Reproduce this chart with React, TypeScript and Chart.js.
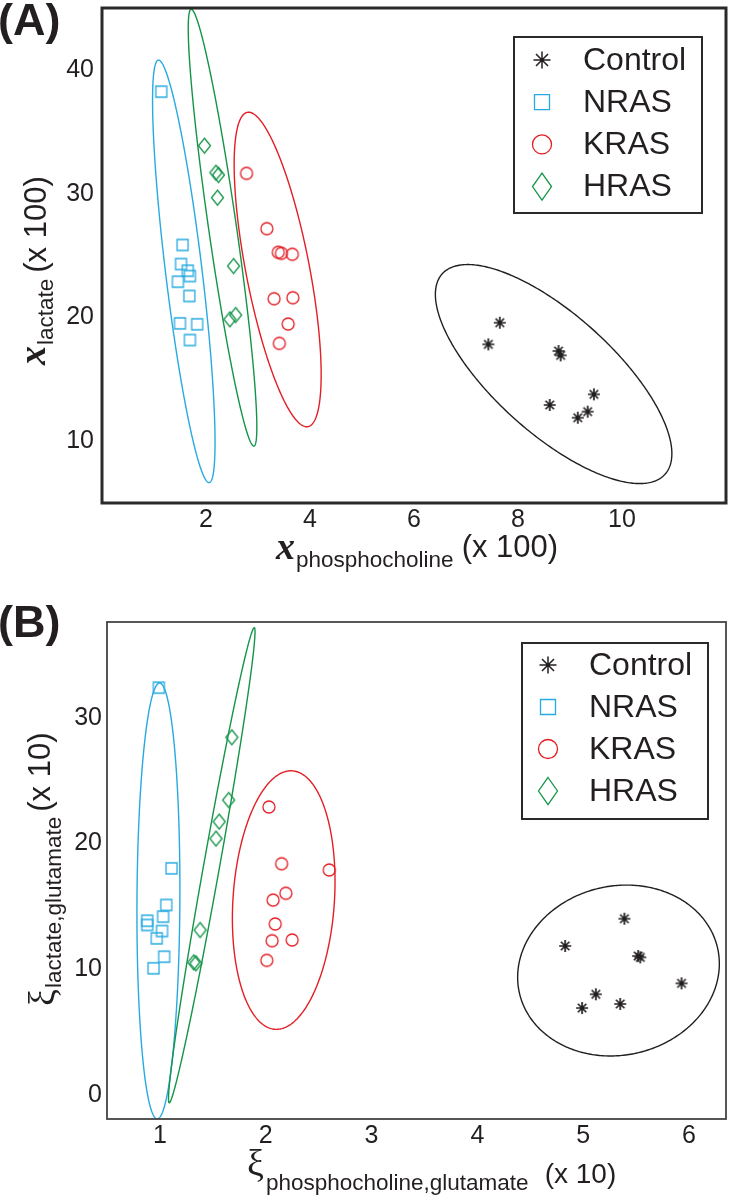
import React, { useEffect, useRef } from 'react';
import { Chart, registerables } from 'chart.js';

Chart.register(...registerables);

const FONT_SANS = '"Liberation Sans", Arial, sans-serif';
const FONT_SERIF = '"Liberation Serif", "Times New Roman", serif';
const TEXT_COLOR = '#231f20';

const seriesNames = ['Control', 'NRAS', 'KRAS', 'HRAS'];
const seriesColors = ['#231f20', '#27aae1', '#e31e24', '#139448'];
const markerKinds = ['star', 'square', 'circle', 'diamond'];

// ---------- Panel A ----------
const aControlX = [7.65, 7.43, 8.78, 8.82, 9.46, 8.61, 9.34, 9.15];
const aControlY = [19.57, 17.82, 17.28, 16.93, 13.78, 12.92, 12.38, 11.89];
const aNrasX = [1.14, 1.55, 1.52, 1.65, 1.69, 1.46, 1.68, 1.5, 1.83, 1.69];
const aNrasY = [38.24, 25.85, 24.31, 23.77, 23.34, 22.88, 21.73, 19.52, 19.44, 18.17];
const aKrasX = [2.78, 3.17, 3.39, 3.45, 3.66, 3.31, 3.67, 3.58, 3.41];
const aKrasY = [31.64, 27.17, 25.26, 25.18, 25.1, 21.51, 21.59, 19.46, 17.9];
const aHrasX = [1.97, 2.19, 2.24, 2.22, 2.53, 2.46, 2.57];
const aHrasY = [33.87, 31.69, 31.51, 29.67, 24.15, 19.84, 20.19];
// ellipse: [centerX, centerY, u.x, u.y, v.x, v.y] (conjugate semi-diameters)
const aEllipses = [
  [8.685, 15.42, 2.274, -6.432, 0, -6.077],
  [1.573, 23.72, -0.489, 17.07, 0.349, 0.179],
  [3.378, 23.87, -0.583, 12.7, 0.6, 0.493],
  [2.318, 27.25, -0.604, 17.65, 0.265, 0.162],
];
const aXRange = [0, 12];
const aYRange = [5, 45];
const aXTicks = [2, 4, 6, 8, 10];
const aYTicks = [10, 20, 30, 40];

// ---------- Panel B ----------
const bControlX = [5.39, 4.83, 5.52, 5.54, 5.93, 5.12, 5.35, 4.99];
const bControlY = [14.02, 11.85, 11.05, 10.95, 8.88, 8.01, 7.24, 6.92];
const bNrasX = [0.99, 1.11, 1.06, 1.03, 0.88, 0.88, 1.02, 0.97, 1.04, 0.94];
const bNrasY = [32.38, 18.02, 15.11, 14.18, 13.86, 13.52, 13.04, 12.46, 11.0, 10.08];
const bKrasX = [2.03, 2.15, 2.6, 2.19, 2.07, 2.09, 2.06, 2.25, 2.01];
const bKrasY = [22.9, 18.39, 17.89, 16.04, 15.5, 13.6, 12.27, 12.33, 10.71];
const bHrasX = [1.68, 1.65, 1.56, 1.53, 1.38, 1.32, 1.34];
const bHrasY = [28.44, 23.45, 21.73, 20.38, 13.12, 10.55, 10.47];
const bEllipses = [
  [5.334, 9.9, 0.953, 0.54, 0, 6.77],
  [0.986, 15.43, 0.203, 0.962, 0, 17.29],
  [2.17, 15.5, 0.485, 1.462, 0, 10.17],
  [1.49, 18.27, 0.402, 18.88, 0.0744, -0.112],
];
const bXRange = [0.5, 6.35];
const bYRange = [-1.9, 37.6];
const bXTicks = [1, 2, 3, 4, 5, 6];
const bYTicks = [0, 10, 20, 30];

// marker sizes [w, h]
const dataMarkerSize: Record<string, number[]> = {
  star: [12, 12], square: [11, 11], circle: [12, 12], diamond: [12, 15],
};
const legendMarkerSize: Record<string, number[]> = {
  star: [17, 17], square: [15, 15], circle: [19, 19], diamond: [19, 27],
};

function drawMarker(ctx: CanvasRenderingContext2D, kind: string, cx: number, cy: number, w: number, h: number, color: string, lw: number) {
  ctx.save();
  ctx.strokeStyle = color;
  ctx.lineWidth = lw;
  ctx.beginPath();
  if (kind === 'square') {
    ctx.rect(cx - w / 2, cy - h / 2, w, h);
  } else if (kind === 'circle') {
    ctx.ellipse(cx, cy, w / 2, h / 2, 0, 0, Math.PI * 2);
  } else if (kind === 'diamond') {
    ctx.moveTo(cx, cy - h / 2);
    ctx.lineTo(cx + w / 2, cy);
    ctx.lineTo(cx, cy + h / 2);
    ctx.lineTo(cx - w / 2, cy);
    ctx.closePath();
  } else {
    const r = w / 2;
    for (let k = 0; k < 4; k++) {
      const a = (k * Math.PI) / 4;
      ctx.moveTo(cx - r * Math.cos(a), cy - r * Math.sin(a));
      ctx.lineTo(cx + r * Math.cos(a), cy + r * Math.sin(a));
    }
  }
  ctx.stroke();
  if (kind === 'star') {
    ctx.fillStyle = color;
    ctx.beginPath();
    ctx.arc(cx, cy, lw * 1.2, 0, Math.PI * 2);
    ctx.fill();
  }
  ctx.restore();
}

function makeMarkerCanvas(kind: string, color: string, w: number, h: number, lw: number) {
  const c = document.createElement('canvas');
  const size = Math.ceil(Math.max(w, h) + 4);
  c.width = size;
  c.height = size;
  const ctx = c.getContext('2d')!;
  drawMarker(ctx, kind, size / 2, size / 2, w, h, color, lw);
  return c;
}

type TitlePart = { text: string; font: string; off: number; gap?: number };

function drawTitle(ctx: CanvasRenderingContext2D, parts: TitlePart[], x: number, y: number, rotated: boolean) {
  ctx.save();
  ctx.fillStyle = TEXT_COLOR;
  ctx.textBaseline = 'alphabetic';
  ctx.textAlign = 'left';
  ctx.translate(x, y);
  if (rotated) ctx.rotate(-Math.PI / 2);
  let pos = 0;
  for (const p of parts) {
    pos += p.gap || 0;
    ctx.font = p.font;
    ctx.fillText(p.text, pos, p.off);
    pos += ctx.measureText(p.text).width;
  }
  ctx.restore();
}

type PanelSpec = {
  xs: number[][];
  ys: number[][];
  ellipses: number[][];
  xRange: number[];
  yRange: number[];
  xTicks: number[];
  yTicks: number[];
  padTop: number;
  padRight: number;
  xAxisHeight: number;
  yAxisWidth: number;
  yTickPad: number;
  xTickPad: number;
  frameWidth: number;
  frameColor: string;
  label: string;
  labelBaseline: number;
  legendBox: number[];
  legendMarkerX: number;
  legendTextX: number;
  legendRow0: number;
  legendRowStep: number;
  yTitle: { x: number; y: number; parts: TitlePart[] };
  xTitle: { x: number; y: number; parts: TitlePart[] };
};

function buildConfig(spec: PanelSpec): any {
  const datasets = seriesNames.map((name, si) => {
    const kind = markerKinds[si];
    const [w, h] = dataMarkerSize[kind];
    const img = makeMarkerCanvas(kind, seriesColors[si], w, h, kind === 'star' ? 1.7 : 1.3);
    return {
      label: name,
      data: spec.xs[si].map((x, i) => ({ x, y: spec.ys[si][i] })),
      pointStyle: img,
      pointRadius: 6,
      showLine: false,
    };
  });

  const decor = {
    id: 'decor' + spec.label,
    beforeDatasetsDraw(chart: any) {
      const ctx = chart.ctx as CanvasRenderingContext2D;
      const xs = chart.scales.x;
      const ys = chart.scales.y;
      const area = chart.chartArea;
      ctx.save();
      ctx.beginPath();
      ctx.rect(area.left, area.top, area.right - area.left, area.bottom - area.top);
      ctx.clip();
      spec.ellipses.forEach((e, si) => {
        const [cx, cy, ux, uy, vx, vy] = e;
        ctx.beginPath();
        for (let k = 0; k <= 360; k++) {
          const t = (k * Math.PI) / 180;
          const dx = cx + ux * Math.cos(t) + vx * Math.sin(t);
          const dy = cy + uy * Math.cos(t) + vy * Math.sin(t);
          const px = xs.getPixelForValue(dx);
          const py = ys.getPixelForValue(dy);
          if (k === 0) ctx.moveTo(px, py);
          else ctx.lineTo(px, py);
        }
        ctx.closePath();
        ctx.strokeStyle = seriesColors[si];
        ctx.lineWidth = 1.4;
        ctx.stroke();
      });
      ctx.restore();
    },
    afterDraw(chart: any) {
      const ctx = chart.ctx as CanvasRenderingContext2D;
      const area = chart.chartArea;
      // frame
      ctx.save();
      ctx.strokeStyle = spec.frameColor;
      ctx.lineWidth = spec.frameWidth;
      ctx.strokeRect(area.left, area.top, area.right - area.left, area.bottom - area.top);
      // legend
      const [lx0, ly0, lx1, ly1] = spec.legendBox;
      ctx.fillStyle = '#ffffff';
      ctx.fillRect(lx0, ly0, lx1 - lx0, ly1 - ly0);
      ctx.lineWidth = 2;
      ctx.strokeStyle = '#2a2a2a';
      ctx.strokeRect(lx0, ly0, lx1 - lx0, ly1 - ly0);
      ctx.font = '32px ' + FONT_SANS;
      ctx.fillStyle = TEXT_COLOR;
      ctx.textBaseline = 'middle';
      ctx.textAlign = 'left';
      seriesNames.forEach((name, si) => {
        const cy = spec.legendRow0 + si * spec.legendRowStep;
        const kind = markerKinds[si];
        const [w, h] = legendMarkerSize[kind];
        drawMarker(ctx, kind, spec.legendMarkerX, cy, w, h, seriesColors[si], kind === 'star' ? 1.5 : 1.3);
        ctx.fillText(name, spec.legendTextX, cy + 1);
      });
      // panel label
      ctx.font = 'bold 45px ' + FONT_SANS;
      ctx.textBaseline = 'alphabetic';
      ctx.fillText(spec.label, -2, spec.labelBaseline);
      ctx.restore();
      drawTitle(ctx, spec.yTitle.parts, spec.yTitle.x, spec.yTitle.y, true);
      drawTitle(ctx, spec.xTitle.parts, spec.xTitle.x, spec.xTitle.y, false);
    },
  };

  const tickFont = { family: FONT_SANS, size: 25 };
  return {
    type: 'scatter',
    data: { datasets },
    options: {
      responsive: false,
      animation: false,
      devicePixelRatio: 1,
      events: [],
      layout: { padding: { left: 0, top: spec.padTop, right: spec.padRight, bottom: 0 } },
      plugins: { legend: { display: false }, tooltip: { enabled: false }, title: { display: false } },
      scales: {
        x: {
          type: 'linear',
          min: spec.xRange[0],
          max: spec.xRange[1],
          grid: { display: false, drawTicks: false },
          border: { display: false },
          ticks: { font: tickFont, color: TEXT_COLOR, padding: spec.xTickPad, maxRotation: 0 },
          afterBuildTicks: (s: any) => { s.ticks = spec.xTicks.map((v) => ({ value: v })); },
          afterFit: (s: any) => {
            s.height = spec.xAxisHeight;
            s.paddingLeft = 0;
            s.paddingRight = 0;
          },
        },
        y: {
          type: 'linear',
          min: spec.yRange[0],
          max: spec.yRange[1],
          grid: { display: false, drawTicks: false },
          border: { display: false },
          ticks: { font: tickFont, color: TEXT_COLOR, padding: spec.yTickPad },
          afterBuildTicks: (s: any) => { s.ticks = spec.yTicks.map((v) => ({ value: v })); },
          afterFit: (s: any) => {
            s.width = spec.yAxisWidth;
            s.paddingTop = 0;
            s.paddingBottom = 0;
          },
        },
      },
    },
    plugins: [decor],
  };
}

const boldX = 'italic bold 38px ' + FONT_SERIF;
const xiFont = '38px ' + FONT_SERIF;
const subFont = '22.5px ' + FONT_SANS;

const specA: PanelSpec = {
  xs: [aControlX, aNrasX, aKrasX, aHrasX],
  ys: [aControlY, aNrasY, aKrasY, aHrasY],
  ellipses: aEllipses,
  xRange: aXRange,
  yRange: aYRange,
  xTicks: aXTicks,
  yTicks: aYTicks,
  padTop: 8,
  padRight: 3,
  xAxisHeight: 97,
  yAxisWidth: 102,
  yTickPad: 8,
  xTickPad: 2,
  frameWidth: 3,
  frameColor: '#2a2a2a',
  label: '(A)',
  labelBaseline: 35,
  legendBox: [514, 37, 702, 213],
  legendMarkerX: 542,
  legendTextX: 583,
  legendRow0: 60,
  legendRowStep: 42.2,
  yTitle: {
    x: 45, y: 365,
    parts: [
      { text: 'x', font: boldX, off: 0 },
      { text: 'lactate', font: subFont, off: 8, gap: 1 },
      { text: '(x 100)', font: '31px ' + FONT_SANS, off: 1, gap: 6 },
    ],
  },
  xTitle: {
    x: 276, y: 559,
    parts: [
      { text: 'x', font: boldX, off: 0 },
      { text: 'phosphocholine', font: subFont, off: 8, gap: 1 },
      { text: '(x 100)', font: '31px ' + FONT_SANS, off: -2, gap: 8 },
    ],
  },
};

const specB: PanelSpec = {
  xs: [bControlX, bNrasX, bKrasX, bHrasX],
  ys: [bControlY, bNrasY, bKrasY, bHrasY],
  ellipses: bEllipses,
  xRange: bXRange,
  yRange: bYRange,
  xTicks: bXTicks,
  yTicks: bYTicks,
  padTop: 22,
  padRight: 7,
  xAxisHeight: 79,
  yAxisWidth: 107,
  yTickPad: 5,
  xTickPad: 2,
  frameWidth: 1.8,
  frameColor: '#444444',
  label: '(B)',
  labelBaseline: 37,
  legendBox: [522, 43, 708, 219],
  legendMarkerX: 548,
  legendTextX: 589,
  legendRow0: 65,
  legendRowStep: 42,
  yTitle: {
    x: 55, y: 406,
    parts: [
      { text: 'ξ', font: xiFont, off: 0 },
      { text: 'lactate,glutamate', font: subFont, off: 6, gap: 1 },
      { text: '(x 10)', font: '31px ' + FONT_SANS, off: -5, gap: 5 },
    ],
  },
  xTitle: {
    x: 247, y: 576,
    parts: [
      { text: 'ξ', font: xiFont, off: 0 },
      { text: 'phosphocholine,glutamate', font: subFont, off: 14, gap: 2 },
      { text: '(x 10)', font: '28px ' + FONT_SANS, off: 7, gap: 16 },
    ],
  },
};

function Panel({ spec, top, height }: { spec: PanelSpec; top: number; height: number }) {
  const ref = useRef<HTMLCanvasElement>(null);
  useEffect(() => {
    const chart = new Chart(ref.current!, buildConfig(spec));
    return () => chart.destroy();
  }, [spec]);
  return (
    <canvas
      ref={ref}
      width={733}
      height={height}
      style={{ position: 'absolute', left: 0, top, width: 733, height, display: 'block' }}
    />
  );
}

export default function App() {
  return (
    <div style={{ position: 'absolute', left: 0, top: 0, width: 733, height: 1198, background: '#ffffff', overflow: 'hidden' }}>
      <Panel spec={specA} top={0} height={600} />
      <Panel spec={specB} top={600} height={598} />
    </div>
  );
}
